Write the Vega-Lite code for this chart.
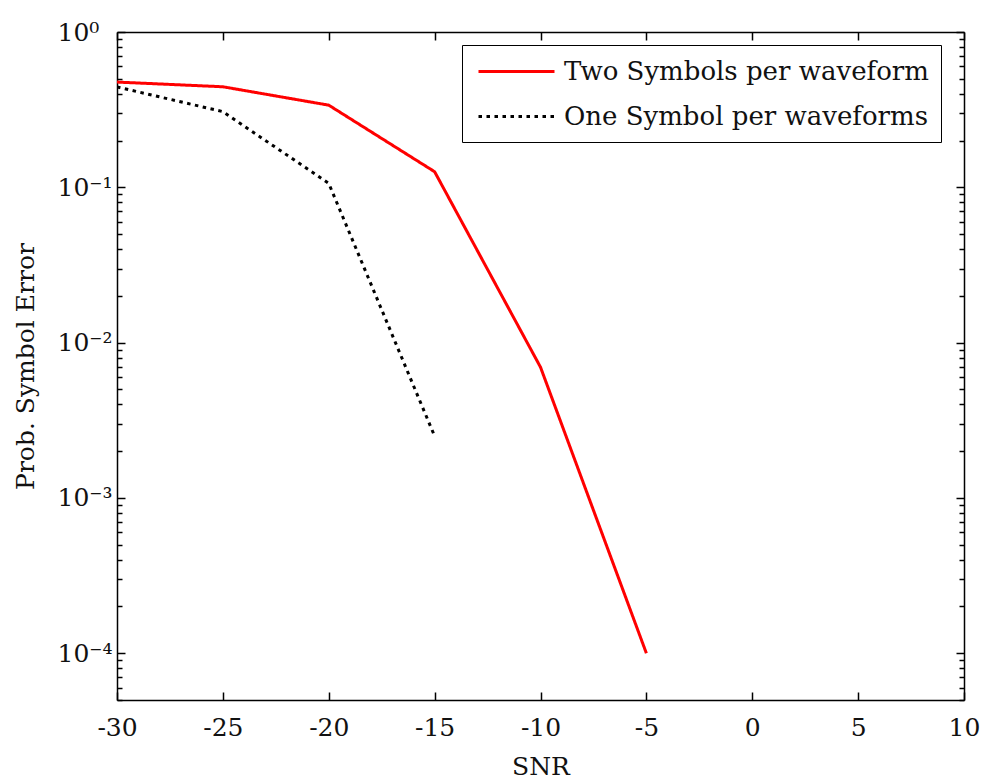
{
  "$schema": "https://vega.github.io/schema/vega-lite/v6.json",
  "width": 847,
  "height": 668,
  "autosize": {"type": "none"},
  "padding": {"left": 117, "top": 32, "right": 21, "bottom": 80},
  "background": "white",
  "config": {
    "view": {"stroke": null},
    "font": "DejaVu Serif",
    "axis": {
      "domainColor": "black",
      "domainWidth": 1.5,
      "tickColor": "black",
      "tickWidth": 1.5,
      "grid": false,
      "labelFont": "DejaVu Serif",
      "labelFontSize": 25,
      "labelColor": "#111",
      "titleFont": "DejaVu Serif",
      "titleFontSize": 25,
      "titleFontWeight": "normal",
      "titleColor": "#111"
    },
    "legend": {
      "orient": "none",
      "legendX": 345,
      "legendY": 13,
      "strokeColor": "black",
      "fillColor": "white",
      "padding": 12,
      "labelFont": "DejaVu Serif",
      "labelFontSize": 26,
      "labelColor": "#111",
      "labelLimit": 0,
      "symbolType": "M-3,0L3,0",
      "symbolSize": 642,
      "symbolOffset": 28,
      "labelOffset": 33,
      "rowPadding": 17,
      "symbolStrokeWidth": 3,
      "title": null
    }
  },
  "data": {
    "values": [
      {"snr": -30, "p": 0.476, "series": "Two Symbols per waveform"},
      {"snr": -25, "p": 0.444, "series": "Two Symbols per waveform"},
      {"snr": -20, "p": 0.338, "series": "Two Symbols per waveform"},
      {"snr": -15, "p": 0.126, "series": "Two Symbols per waveform"},
      {"snr": -10, "p": 0.00695, "series": "Two Symbols per waveform"},
      {"snr": -5, "p": 0.0001, "series": "Two Symbols per waveform"},
      {"snr": -30, "p": 0.443, "series": "One Symbol per waveforms"},
      {"snr": -25, "p": 0.307, "series": "One Symbol per waveforms"},
      {"snr": -20, "p": 0.106, "series": "One Symbol per waveforms"},
      {"snr": -15, "p": 0.0025, "series": "One Symbol per waveforms"}
    ]
  },
  "resolve": {"axis": {"x": "independent", "y": "independent"}},
  "layer": [
    {
      "mark": {"type": "line", "strokeWidth": 3, "clip": true},
      "encoding": {
        "x": {
          "field": "snr", "type": "quantitative",
          "scale": {"domain": [-30, 10], "nice": false, "zero": false},
          "axis": {
            "orient": "bottom", "title": "SNR", "values": [-30, -25, -20, -15, -10, -5, 0, 5, 10],
            "tickSize": -8, "labelPadding": 43, "labelBaseline": "alphabetic",
            "labelFlush": false, "labelOverlap": false,
            "labelExpr": "replace(datum.label, '−', '-')",
            "titleX": 423.5, "titleY": 74, "titleBaseline": "alphabetic"
          }
        },
        "y": {
          "field": "p", "type": "quantitative",
          "scale": {"type": "log", "domain": [0.00005, 1], "nice": false},
          "axis": {
            "orient": "left", "title": "Prob. Symbol Error",
            "values": [0.0001, 0.001, 0.01, 0.1, 1],
            "tickSize": -8, "labelPadding": 68, "labelAlign": "left", "labelBaseline": "middle",
            "labelOverlap": false, "labelFlush": false,
            "labelExpr": "datum.value >= 0.5 ? '10⁰' : datum.value >= 0.05 ? '10⁻¹' : datum.value >= 0.005 ? '10⁻²' : datum.value >= 0.0005 ? '10⁻³' : '10⁻⁴'",
            "titleX": -84, "titleY": 334, "titleBaseline": "alphabetic", "titleAngle": -90
          }
        },
        "color": {
          "field": "series", "type": "nominal",
          "scale": {"domain": ["Two Symbols per waveform", "One Symbol per waveforms"], "range": ["#ff0000", "#000000"]},
          "legend": {}
        },
        "strokeDash": {
          "field": "series", "type": "nominal",
          "scale": {"domain": ["Two Symbols per waveform", "One Symbol per waveforms"], "range": [[1, 0], [3.5, 4.5]]},
          "legend": {}
        }
      }
    },
    {
      "mark": {"type": "line", "opacity": 0},
      "encoding": {
        "x": {
          "field": "snr", "type": "quantitative",
          "axis": {"orient": "top", "title": null, "labels": false, "values": [-30, -25, -20, -15, -10, -5, 0, 5, 10], "tickSize": -8}
        },
        "y": {
          "field": "p", "type": "quantitative",
          "axis": {"orient": "right", "title": null, "labels": false, "values": [0.0001, 0.001, 0.01, 0.1, 1], "tickSize": -8}
        }
      }
    },
    {
      "mark": {"type": "line", "opacity": 0},
      "encoding": {
        "x": {"field": "snr", "type": "quantitative", "axis": null},
        "y": {
          "field": "p", "type": "quantitative",
          "axis": {"orient": "left", "title": null, "labels": false, "domain": false, "tickSize": -5,
            "values": [0.00005, 0.00006, 0.00007, 0.00008, 0.00009, 0.0002, 0.0003, 0.0004, 0.0005, 0.0006, 0.0007, 0.0008, 0.0009, 0.002, 0.003, 0.004, 0.005, 0.006, 0.007, 0.008, 0.009, 0.02, 0.03, 0.04, 0.05, 0.06, 0.07, 0.08, 0.09, 0.2, 0.3, 0.4, 0.5, 0.6, 0.7, 0.8, 0.9]}
        }
      }
    },
    {
      "mark": {"type": "line", "opacity": 0},
      "encoding": {
        "x": {"field": "snr", "type": "quantitative", "axis": null},
        "y": {
          "field": "p", "type": "quantitative",
          "axis": {"orient": "right", "title": null, "labels": false, "domain": false, "tickSize": -5,
            "values": [0.00005, 0.00006, 0.00007, 0.00008, 0.00009, 0.0002, 0.0003, 0.0004, 0.0005, 0.0006, 0.0007, 0.0008, 0.0009, 0.002, 0.003, 0.004, 0.005, 0.006, 0.007, 0.008, 0.009, 0.02, 0.03, 0.04, 0.05, 0.06, 0.07, 0.08, 0.09, 0.2, 0.3, 0.4, 0.5, 0.6, 0.7, 0.8, 0.9]}
        }
      }
    }
  ]
}
